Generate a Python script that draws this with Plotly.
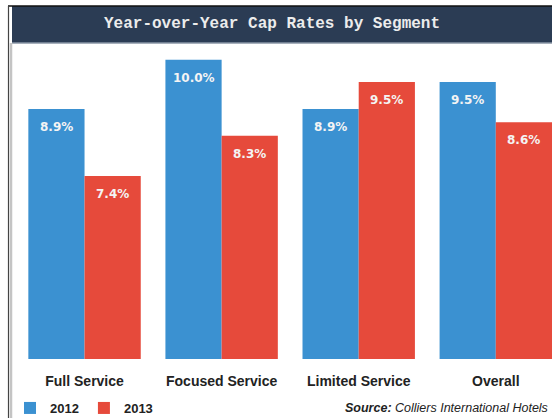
import plotly.graph_objects as go

categories = ["Full Service", "Focused Service", "Limited Service", "Overall"]
rates_2012 = [8.9, 10.0, 8.9, 9.5]
rates_2013 = [7.4, 8.3, 9.5, 8.6]
series_names = ["2012", "2013"]
title_text = "Year-over-Year Cap Rates by Segment"
source_text = "<b>Source:</b> Colliers International Hotels"

BLUE = "#3b91d1"
RED = "#e64a3b"
NAVY = "#2b3c54"

W, H = 552, 418
ML, MR, MT, MB = 16, 0, 43, 59
PW, PH = W - ML - MR, H - MT - MB


def px_x(p):
    return (p - ML) / PW


def px_y(p):
    return (H - MB - p) / PH


fig = go.Figure()
for name, vals, col in [(series_names[0], rates_2012, BLUE), (series_names[1], rates_2013, RED)]:
    fig.add_trace(go.Bar(
        x=categories, y=vals, name=f"<b>{name}</b>", marker=dict(color=col, line=dict(width=0)),
        hoverinfo="skip",
    ))

annotations = []
for vals, shift in [(rates_2012, -28), (rates_2013, 28)]:
    for c, v in zip(categories, vals):
        annotations.append(dict(
            x=c, y=v, xref="x", yref="y", text=f"<b>{v:.1f}%</b>", showarrow=False,
            xshift=shift, yshift=-18, yanchor="middle",
            font=dict(family="DejaVu Sans", size=12, color="#f4f4f4"),
        ))

annotations.append(dict(
    x=px_x(272), y=px_y(24), xref="paper", yref="paper", text="<b>" + title_text + "</b>",
    showarrow=False, xanchor="center", yanchor="middle",
    font=dict(family="Liberation Mono", size=16, color="#ececec"),
))
annotations.append(dict(
    x=px_x(550), y=px_y(408), xref="paper", yref="paper", text="<i>" + source_text + "</i>",
    showarrow=False, xanchor="right", yanchor="middle",
    font=dict(family="Liberation Sans", size=12.5, color="#222222"),
))

shapes = [
    dict(type="rect", xref="paper", yref="paper", x0=px_x(12), x1=px_x(553), y0=px_y(43), y1=px_y(6),
         fillcolor=NAVY, line=dict(width=0), layer="above"),
    dict(type="line", xref="paper", yref="paper", x0=px_x(12), x1=px_x(553), y0=px_y(43), y1=px_y(43),
         line=dict(color="#8a96a6", width=1.5), layer="above"),
    dict(type="line", xref="paper", yref="paper", x0=px_x(8), x1=px_x(553), y0=px_y(6), y1=px_y(6),
         line=dict(color="#111111", width=1.5), layer="above"),
    dict(type="line", xref="paper", yref="paper", x0=px_x(8.5), x1=px_x(8.5), y0=px_y(420), y1=px_y(6),
         line=dict(color="#444444", width=1.2), layer="above"),
    dict(type="line", xref="paper", yref="paper", x0=px_x(11), x1=px_x(11), y0=px_y(420), y1=px_y(43),
         line=dict(color="#c4c4c4", width=2.5), layer="above"),
]

fig.update_layout(
    width=W, height=H,
    margin=dict(l=ML, r=MR, t=MT, b=MB, pad=0, autoexpand=False),
    paper_bgcolor="white", plot_bgcolor="white",
    barmode="group", bargap=0.18, bargroupgap=0,
    showlegend=True,
    legend=dict(orientation="h", x=px_x(10), xref="paper",
                y=(H - 408) / H, yref="container", xanchor="left", yanchor="middle",
                font=dict(family="Liberation Sans", size=13, color="#222222"),
                itemwidth=30, tracegroupgap=0, bgcolor="rgba(0,0,0,0)"),
    annotations=annotations,
    shapes=shapes,
    xaxis=dict(range=[-0.5, 3.41], showgrid=False, zeroline=False, showline=False, ticks="",
               tickfont=dict(family="Liberation Sans", size=14, color="#222222"),
               ticklabelstandoff=12, automargin=False, fixedrange=True,
               tickvals=categories, ticktext=[f"<b>{c}</b>" for c in categories]),
    yaxis=dict(range=[3.3, 10.375], showgrid=False, zeroline=False, showline=False,
               showticklabels=False, ticks="", automargin=False, fixedrange=True),
)

fig.write_html("out.html")
